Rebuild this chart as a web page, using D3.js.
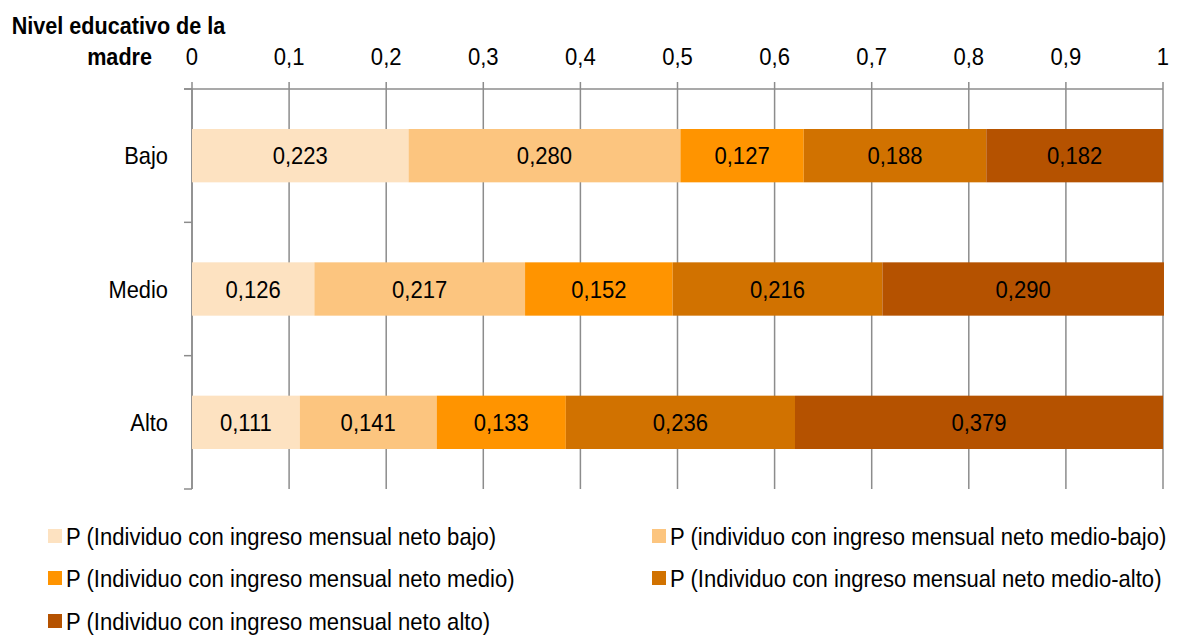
<!DOCTYPE html>
<html><head><meta charset="utf-8">
<script src="https://cdn.jsdelivr.net/npm/d3@7"></script>
<style>
body{margin:0;background:#fff;}
text{font-family:"Liberation Sans",Arial,sans-serif;}
</style></head>
<body><svg id="c" width="1178" height="637"></svg>
<script>
const categories = ["Bajo","Medio","Alto"];
const seriesNames = [
 "P (Individuo con ingreso mensual neto bajo)",
 "P (individuo con ingreso mensual neto medio-bajo)",
 "P (Individuo con ingreso mensual neto medio)",
 "P (Individuo con ingreso mensual neto medio-alto)",
 "P (Individuo con ingreso mensual neto alto)"];
const bajoValues  = [0.223,0.280,0.127,0.188,0.182];
const medioValues = [0.126,0.217,0.152,0.216,0.290];
const altoValues  = [0.111,0.141,0.133,0.236,0.379];
const tickValues = [0,0.1,0.2,0.3,0.4,0.5,0.6,0.7,0.8,0.9,1];
const colors = ["#FDE2C1","#FCC57F","#FF9400","#D17200","#B55200"];
const yTitle = ["Nivel educativo de la","madre"];

const values = [bajoValues, medioValues, altoValues];
const svg = d3.select("#c");
const x = d3.scaleLinear().domain([0,1]).range([192,1163]);
const y = d3.scaleBand().domain(categories).range([89,489]).paddingInner(0.6).paddingOuter(0.3);
const fmt = v => d3.format(".3f")(v).replace(".",",");
const tfmt = v => String(v).replace(".",",");
const grid="#8c8c8c";
function txt(g,tx,ty,s,anchor,size,sx,bold){
  return g.append("text").attr("transform",`translate(${tx},${ty}) scale(${sx},1)`)
   .attr("text-anchor",anchor).attr("font-size",size).attr("font-weight",bold?"bold":"normal").attr("fill","#000").text(s);
}

// gridlines
svg.append("g").selectAll("line").data(tickValues).join("line")
 .attr("x1",d=>x(d)).attr("x2",d=>x(d)).attr("y1",82).attr("y2",489)
 .attr("stroke",grid).attr("stroke-width",1.5);
svg.append("line").attr("x1",184).attr("x2",x(1)).attr("y1",89).attr("y2",89).attr("stroke",grid).attr("stroke-width",1.5);
svg.append("line").attr("x1",x(0)).attr("x2",x(0)).attr("y1",89).attr("y2",489).attr("stroke",grid).attr("stroke-width",1.5);
const step=y.step();
const bounds=[0,1,2,3].map(i=>89+i*step);
svg.append("g").selectAll("line").data(bounds).join("line")
 .attr("x1",184).attr("x2",192).attr("y1",d=>d).attr("y2",d=>d).attr("stroke",grid).attr("stroke-width",1.5);

// tick labels
const tg=svg.append("g");
tickValues.forEach(t=>txt(tg,x(t),65,tfmt(t),"middle",24,0.92));

// bars
categories.forEach((c,i)=>{
  let cum=0;
  const g=svg.append("g");
  values[i].forEach((v,j)=>{
    const x0=cum; cum+=v;
    g.append("rect").attr("x",x(x0)).attr("width",x(cum)-x(x0)).attr("y",y(c)).attr("height",y.bandwidth()).attr("fill",colors[j]);
    txt(g,(x(x0)+x(cum))/2,y(c)+y.bandwidth()/2+8.5,fmt(v),"middle",24,0.92);
  });
  txt(svg,168,y(c)+y.bandwidth()/2+8.5,c,"end",24,0.91);
});

// y title
txt(svg,118.5,34,yTitle[0],"middle",24,0.9,true);
txt(svg,152,65,yTitle[1],"end",24,0.9,true);

// legend
const legPos=[[48,536],[652,536],[48,578],[652,578],[48,621]];
seriesNames.forEach((s,j)=>{
  const [lx,ly]=legPos[j];
  svg.append("rect").attr("x",lx).attr("y",ly-7).attr("width",14).attr("height",14).attr("fill",colors[j]);
  txt(svg,lx+18,ly+8.5,s,"start",24,0.92);
});
</script></body></html>
